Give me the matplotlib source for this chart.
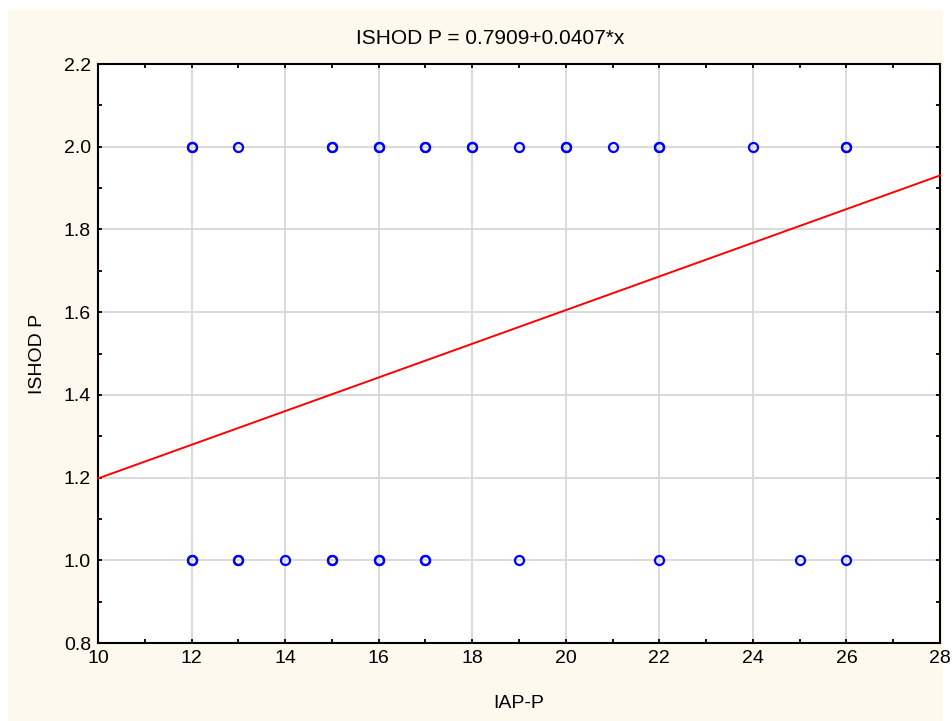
import matplotlib.pyplot as plt
from matplotlib.patches import Rectangle
from matplotlib.ticker import MultipleLocator

plt.rcParams['font.family'] = ['Liberation Sans', 'DejaVu Sans']

# punti osservati (duplicati ripetuti)
x_ishod2 = [12, 12, 13, 15, 15, 16, 16, 17, 17, 18, 18, 19, 20, 20, 21, 22, 22, 24, 26, 26]
x_ishod1 = [12, 12, 13, 13, 14, 15, 15, 16, 16, 17, 17, 19, 22, 25, 26]
y_ishod2 = [2.0] * len(x_ishod2)
y_ishod1 = [1.0] * len(x_ishod1)

# retta di regressione
intercetta = 0.7909
pendenza = 0.0407
x_retta = [10, 28]
y_retta = [intercetta + pendenza * v for v in x_retta]

fig = plt.figure(figsize=(9.53, 7.21), dpi=100, facecolor='white')
fig.patches.append(Rectangle((8 / 953, 0), 935 / 953, 711 / 721,
                             transform=fig.transFigure, facecolor='#fdf9ee',
                             edgecolor='none', zorder=-10))
ax = fig.add_axes([98 / 953, 1 - 643 / 721, 842 / 953, 579 / 721])
ax.set_facecolor('white')

ax.plot(x_ishod2, y_ishod2, 'o', mfc='none', mec='blue', ms=6.5, mew=1.6, zorder=3)
ax.plot(x_ishod1, y_ishod1, 'o', mfc='none', mec='blue', ms=6.5, mew=1.6, zorder=3)
ax.plot(x_retta, y_retta, color='red', lw=1.4, zorder=4, clip_on=False)

ax.set_xlim(10, 28)
ax.set_ylim(0.8, 2.2)
ax.xaxis.set_major_locator(MultipleLocator(2))
ax.xaxis.set_minor_locator(MultipleLocator(1))
ax.yaxis.set_major_locator(MultipleLocator(0.2))
ax.yaxis.set_minor_locator(MultipleLocator(0.1))
ax.xaxis.set_major_formatter(plt.FormatStrFormatter('%d'))
ax.yaxis.set_major_formatter(plt.FormatStrFormatter('%.1f'))

ax.grid(True, which='major', color='#d8d8d8', lw=1.3, zorder=0)
ax.tick_params(which='both', direction='in', top=True, right=True, labelsize=14, pad=5)
ax.tick_params(which='major', length=3, width=1.3)
ax.tick_params(which='minor', length=3, width=1.3)
for s in ax.spines.values():
    s.set_linewidth(1.5)

fig.text(490 / 953, 1 - 38 / 721, 'ISHOD P = 0.7909+0.0407*x', fontsize=15,
         ha='center', va='center')
ax.set_xlabel('IAP-P', fontsize=14, labelpad=20)
ax.set_ylabel('ISHOD P', fontsize=14, labelpad=13)

fig.savefig('out.png', dpi=100, facecolor=fig.get_facecolor())
